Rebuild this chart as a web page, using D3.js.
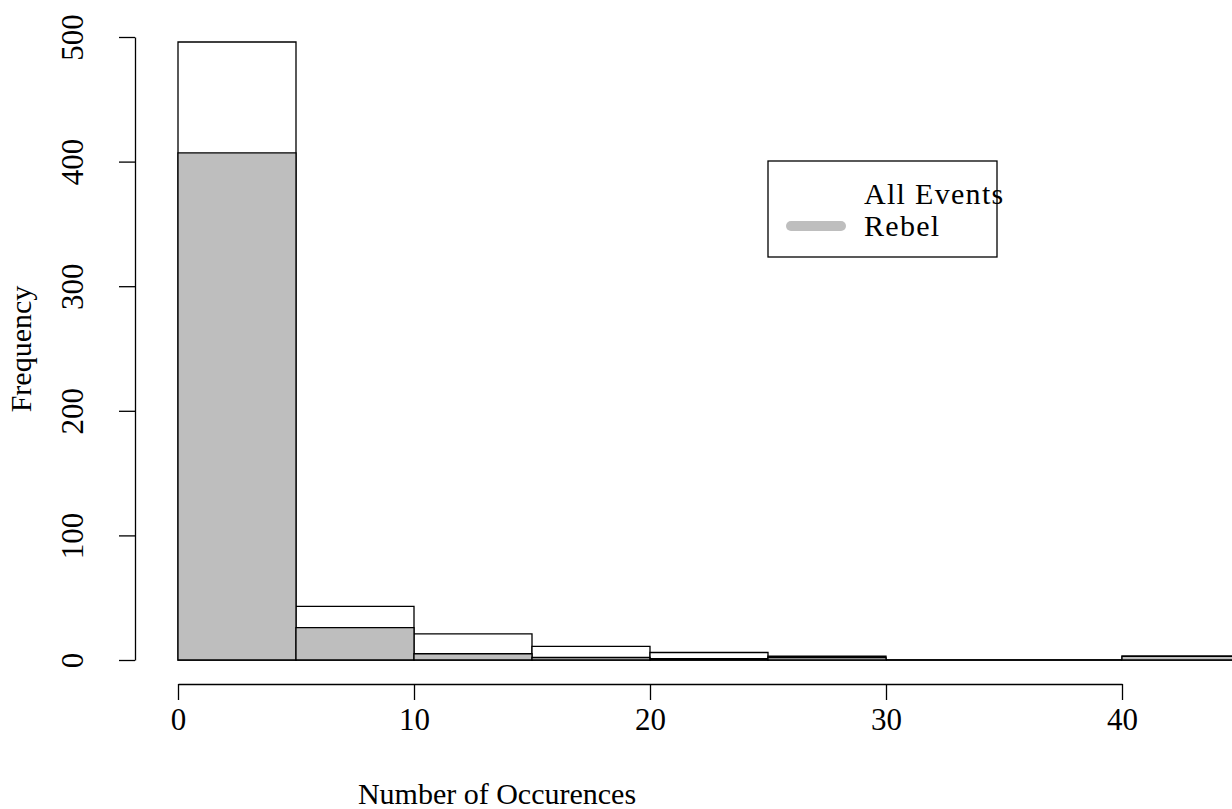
<!DOCTYPE html>
<html>
<head>
<meta charset="utf-8">
<script src="https://cdn.jsdelivr.net/npm/d3@7"></script>
<style>
  html, body { margin: 0; padding: 0; background: #fff; }
  svg { display: block; }
  text { font-family: "Liberation Serif", "DejaVu Serif", serif; fill: #000; }
</style>
</head>
<body>
<svg id="chart" width="1232" height="809"></svg>
<script>
// Histogram bins (lower edges, width 5)
const binStarts = [0, 5, 10, 15, 20, 25, 30, 35, 40];
const binWidth = 5;
// Counts per bin
const allEvents = [496, 43, 21, 11, 6, 3, 0, 0, 3];
const rebel = [407, 26, 5, 2, 1, 2, 0, 0, 3];
// Axis ticks
const xTicks = [0, 10, 20, 30, 40];
const yTicks = [0, 100, 200, 300, 400, 500];
// Legend entries
const legendLabels = ["All Events", "Rebel"];
const legendColors = ["#ffffff", "#bebebe"];

const svg = d3.select("#chart");
const fontSize = 30;

const x = d3.scaleLinear().domain([0, 40]).range([178, 1122]);
const y = d3.scaleLinear().domain([0, 500]).range([660, 37]);

// Bars as closed paths so empty bins still show their outline on the baseline
function drawBars(counts, fill) {
  svg.append("g")
    .selectAll("path")
    .data(binStarts.map((s, i) => ({ s, c: counts[i] })))
    .join("path")
    .attr("d", d => {
      const x0 = x(d.s), x1 = x(d.s + binWidth);
      const y0 = y(0), y1 = y(d.c);
      return `M${x0},${y0}V${y1}H${x1}V${y0}Z`;
    })
    .attr("fill", fill)
    .attr("stroke", "#000")
    .attr("stroke-width", 1.3)
    .attr("stroke-linejoin", "miter");
}
drawBars(allEvents, "#ffffff");
drawBars(rebel, "#bebebe");

// X axis
const xAxis = svg.append("g")
  .attr("transform", "translate(0,684)")
  .call(d3.axisBottom(x).tickValues(xTicks).tickSize(16).tickSizeOuter(0).tickPadding(8));
xAxis.selectAll("path, line").attr("stroke", "#000").attr("stroke-width", 1.3);
xAxis.selectAll("text")
  .attr("font-family", "Liberation Serif, serif")
  .attr("font-size", 31)
  .attr("fill", "#000");

// Y axis with labels parallel to the axis
const yAxis = svg.append("g")
  .attr("transform", "translate(135,0)")
  .call(d3.axisLeft(y).tickValues(yTicks).tickSize(16).tickSizeOuter(0));
yAxis.selectAll("path, line").attr("stroke", "#000").attr("stroke-width", 1.3);
yAxis.selectAll("text")
  .attr("font-family", "Liberation Serif, serif")
  .attr("font-size", 31)
  .attr("fill", "#000")
  .attr("x", null)
  .attr("dy", null)
  .attr("text-anchor", "middle")
  .attr("dominant-baseline", "central")
  .attr("transform", "translate(-63,0) rotate(-90)");

// Axis titles
svg.append("text")
  .attr("x", 497)
  .attr("y", 804)
  .attr("text-anchor", "middle")
  .attr("font-size", fontSize)
  .text("Number of Occurences");

svg.append("text")
  .attr("transform", "translate(31,349) rotate(-90)")
  .attr("text-anchor", "middle")
  .attr("font-size", fontSize)
  .text("Frequency");

// Legend
const legend = svg.append("g");
legend.append("rect")
  .attr("x", 768).attr("y", 161)
  .attr("width", 229).attr("height", 96)
  .attr("fill", "none")
  .attr("stroke", "#000")
  .attr("stroke-width", 1.3);
legendLabels.forEach((lab, i) => {
  const cy = 194 + i * 32;
  legend.append("line")
    .attr("x1", 791).attr("x2", 841)
    .attr("y1", cy).attr("y2", cy)
    .attr("stroke", legendColors[i])
    .attr("stroke-width", 10)
    .attr("stroke-linecap", "round");
  legend.append("text")
    .attr("x", 864)
    .attr("y", cy + 10)
    .attr("font-size", fontSize)
    .attr("letter-spacing", 1.3)
    .text(lab);
});
</script>
</body>
</html>
